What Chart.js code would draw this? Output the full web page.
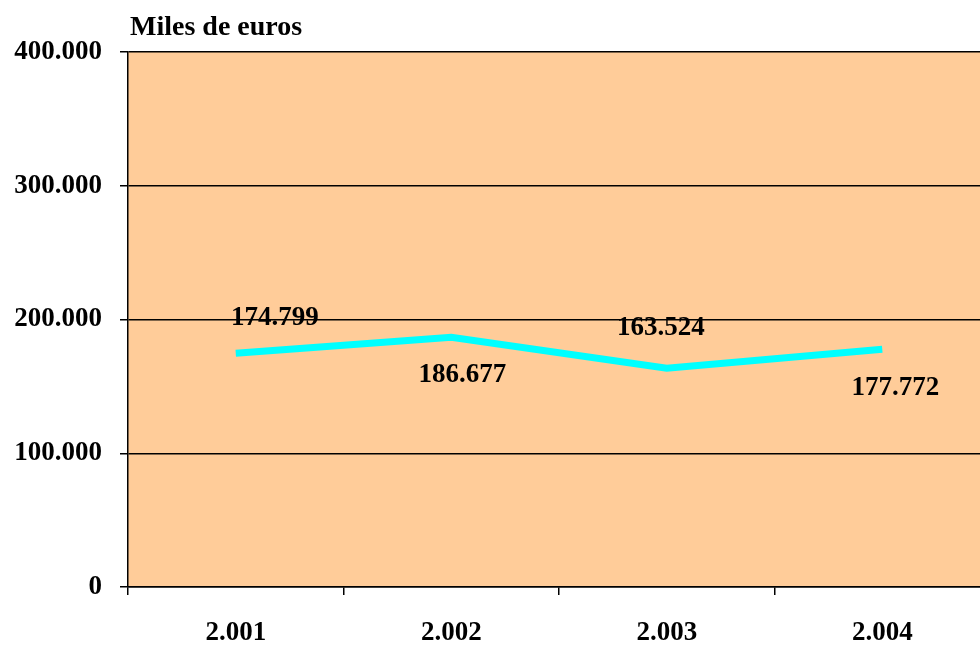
<!DOCTYPE html>
<html>
<head>
<meta charset="utf-8">
<script src="https://cdn.jsdelivr.net/npm/chart.js@4.4.1/dist/chart.umd.min.js"></script>
<style>
html,body{margin:0;padding:0;background:#fff;overflow:hidden;width:980px;height:648px;}
canvas{display:block;}
</style>
</head>
<body>
<canvas id="c" width="1000" height="648"></canvas>
<script>
const categories = ['2.001', '2.002', '2.003', '2.004'];
const values = [174799, 186677, 163524, 177772];
const yTicks = [0, 100000, 200000, 300000, 400000];
const yTitle = 'Miles de euros';

// label placement (offsets from point, px)
const labelDX = [39, 11, -6, 13];
const labelDY = [-35, 38, -40, 39];

const FONT = "'Liberation Serif','Times New Roman',serif";
const fmt = v => String(v).replace(/\B(?=(\d{3})+(?!\d))/g, '.');

const bgPlugin = {
  id: 'bg',
  beforeDraw(chart) {
    const a = chart.chartArea, ctx = chart.ctx;
    ctx.save();
    ctx.fillStyle = '#FFCC99';
    ctx.fillRect(a.left, a.top, a.right - a.left, a.bottom - a.top);
    ctx.restore();
  },
  afterDraw(chart) {
    const a = chart.chartArea, ctx = chart.ctx;
    ctx.save();
    ctx.fillStyle = '#000';
    ctx.font = "bold 28px " + FONT;
    ctx.textAlign = 'left';
    ctx.textBaseline = 'middle';
    ctx.fillText(yTitle, a.left + 2, 28);
    ctx.restore();
  }
};

const labelPlugin = {
  id: 'vlabels',
  afterDatasetsDraw(chart) {
    const ctx = chart.ctx;
    const meta = chart.getDatasetMeta(0);
    ctx.save();
    ctx.fillStyle = '#000';
    ctx.font = "bold 27px " + FONT;
    ctx.textAlign = 'center';
    ctx.textBaseline = 'middle';
    meta.data.forEach((pt, i) => {
      ctx.fillText(fmt(values[i]), pt.x + labelDX[i], pt.y + labelDY[i]);
    });
    ctx.restore();
  }
};

new Chart(document.getElementById('c'), {
  type: 'line',
  data: {
    labels: categories,
    datasets: [{
      data: values,
      borderColor: '#00FFFF',
      borderWidth: 7,
      pointRadius: 0,
      tension: 0,
      fill: false
    }]
  },
  options: {
    responsive: false,
    animation: false,
    layout: { padding: { left: 0, right: 10, top: 52, bottom: 0 } },
    plugins: { legend: { display: false }, tooltip: { enabled: false } },
    scales: {
      x: {
        offset: true,
        grid: { display: true, drawOnChartArea: false, drawTicks: true, tickLength: 8, color: '#000', lineWidth: 1.5, offset: true },
        border: { display: true, color: '#000', width: 1.5 },
        ticks: { color: '#000', font: { family: FONT, size: 27, weight: 'bold' }, padding: 22, maxRotation: 0 },
        afterFit(s) { s.height = 61; }
      },
      y: {
        min: 0, max: 400000,
        afterBuildTicks(s) { s.ticks = yTicks.map(v => ({ value: v })); },
        grid: { color: '#000', lineWidth: 1.5, tickLength: 8, drawTicks: true },
        border: { display: true, color: '#000', width: 1.5 },
        ticks: { color: '#000', font: { family: FONT, size: 27, weight: 'bold' }, padding: 18, callback: v => fmt(v) },
        afterFit(s) { s.width = 128; }
      }
    }
  },
  plugins: [bgPlugin, labelPlugin]
});
</script>
</body>
</html>
